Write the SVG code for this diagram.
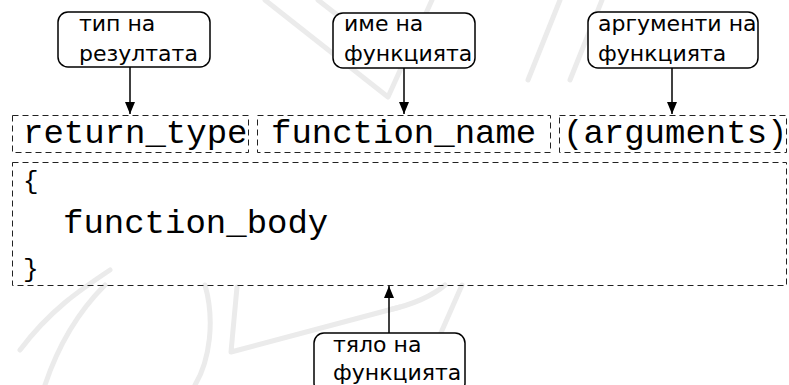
<svg xmlns="http://www.w3.org/2000/svg" width="789" height="385" viewBox="0 0 789 385">
<defs>
<marker id="ah" viewBox="0 0 12 12" refX="12" refY="6" markerWidth="12" markerHeight="12" markerUnits="userSpaceOnUse" orient="auto">
<path d="M0,1 L12,6 L0,11 z" fill="#000"/>
</marker>
<style>
.wm{fill:none;stroke:#ebebeb;stroke-width:5;stroke-linecap:round;stroke-linejoin:round}
.lbl{fill:#fff;stroke:#000;stroke-width:1.5}
.lt{font-family:"DejaVu Sans",Verdana,sans-serif;font-size:22px;fill:#000}
.dash{fill:none;stroke:#222;stroke-width:1;stroke-dasharray:6 4}
.code{font-family:"Liberation Mono","Courier New",monospace;font-size:34px;fill:#000}
.brace{font-size:26px}
.conn{fill:none;stroke:#000;stroke-width:1.5;marker-end:url(#ah)}
</style>
</defs>
<rect width="789" height="385" fill="#fff"/>
<g id="watermark">
<path class="wm" d="M265,0 L388,97 L432,0"/>
<path class="wm" d="M318,0 L395,60"/>
<path class="wm" d="M560,0 L528,80"/>
<path class="wm" d="M602,0 L570,80"/>
<path class="wm" d="M20,350 C50,310 80,290 110,270"/>
<path class="wm" d="M45,385 C60,340 80,310 105,285"/>
<path class="wm" d="M205,285 C215,320 210,360 195,385"/>
<path class="wm" d="M237,287 L231,352 L400,307"/>
<path class="wm" d="M389,310 C410,305 430,298 445,285"/>
<path class="wm" d="M440,335 L462,285"/>
</g>
<g id="return_type">
<rect class="dash" x="12.5" y="115.5" width="236" height="37"/>
<text class="code" x="23" y="143">return_type</text>
</g>
<g id="function_name">
<rect class="dash" x="257.5" y="115.5" width="293" height="37"/>
<text class="code" x="271" y="143">function_name</text>
</g>
<g id="arguments">
<rect class="dash" x="559.5" y="115.5" width="227" height="37"/>
<text class="code" x="563" y="143">(arguments)</text>
</g>
<g id="body">
<rect class="dash" x="12.5" y="162.5" width="774" height="123"/>
<text class="code brace" x="23" y="189">{</text>
<text class="code" x="63" y="233">function_body</text>
<text class="code brace" x="23" y="277">}</text>
</g>
<g id="label_type">
<rect class="lbl" x="58" y="12" width="152" height="55" rx="10"/>
<text class="lt" x="79" y="31">тип на</text>
<text class="lt" x="79" y="61">резултата</text>
</g>
<g id="label_name">
<rect class="lbl" x="333" y="13" width="142" height="55" rx="10"/>
<text class="lt" x="344" y="31">име на</text>
<text class="lt" x="344" y="61">функцията</text>
</g>
<g id="label_args">
<rect class="lbl" x="588" y="12" width="170" height="56" rx="10"/>
<text class="lt" x="598" y="31">аргументи на</text>
<text class="lt" x="598" y="61">функцията</text>
</g>
<g id="label_body">
<rect class="lbl" x="314" y="333" width="151" height="60" rx="10"/>
<text class="lt" x="333" y="352">тяло на</text>
<text class="lt" x="333" y="380">функцията</text>
</g>
<g id="connectors">
<line class="conn" x1="130" y1="67" x2="130" y2="114"/>
<line class="conn" x1="404" y1="68" x2="404" y2="114"/>
<line class="conn" x1="672" y1="68" x2="672" y2="114"/>
<line class="conn" x1="389" y1="333" x2="389" y2="286"/>
</g>
</svg>
